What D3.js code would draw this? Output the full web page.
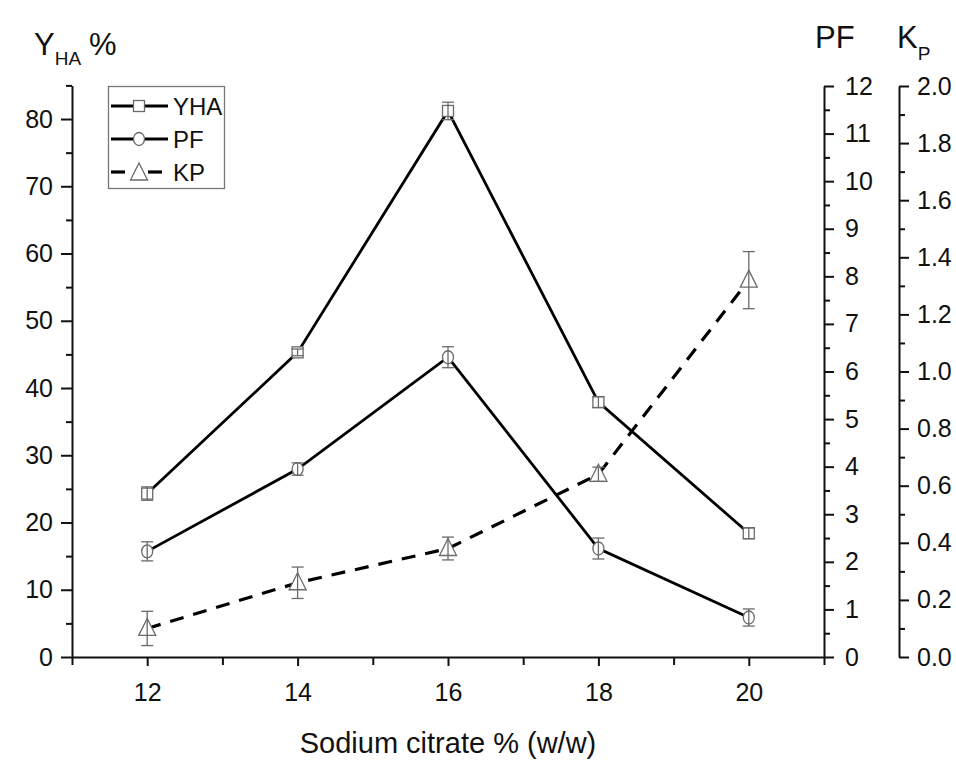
<!DOCTYPE html>
<html>
<head>
<script src="https://d3js.org/d3.v7.min.js"></script>
<style>
  html, body { margin: 0; background: #fff; }
  svg text { font-family: "Liberation Sans", Arial, sans-serif; fill: #111; }
  .axis path, .axis line { stroke: #111; stroke-width: 2px; }
</style>
</head>
<body>
<svg id="chart" width="956" height="768"></svg>
<script>
// sodium citrate % (w/w)
var citrate = [12, 14, 16, 18, 20];
// Y_HA % (left axis)
var yha    = [24.3, 45.3, 81.2, 37.9, 18.4];
var yhaErr = [1.0, 0.5, 1.3, 0.8, 0.8];
// PF (first right axis)
var pf     = [2.22, 3.95, 6.30, 2.28, 0.83];
var pfErr  = [0.20, 0.13, 0.22, 0.22, 0.18];
// K_P (second right axis)
var kp     = [0.10, 0.26, 0.38, 0.64, 1.32];
var kpErr  = [0.06, 0.055, 0.04, 0.025, 0.10];

var xTicks = [12, 14, 16, 18, 20],
    xMinor = [11, 13, 15, 17, 19, 21];

var svg = d3.select("#chart");

var x   = d3.scaleLinear().domain([11, 21]).range([72, 824]);
var yL  = d3.scaleLinear().domain([0, 85]).range([657, 85.4]);
var yPF = d3.scaleLinear().domain([0, 12]).range([657, 86]);
var yKP = d3.scaleLinear().domain([0, 2]).range([657, 86]);

function styleText(g, size) {
  g.selectAll("text").style("font-size", size + "px");
}

// bottom axis
svg.append("g").attr("class", "axis").attr("transform", "translate(0,657)")
  .call(d3.axisBottom(x).tickValues(xTicks).tickSize(9).tickSizeOuter(0).tickPadding(17).tickFormat(d3.format("d")))
  .call(styleText, 25);
svg.append("g").attr("class", "axis").attr("transform", "translate(0,657)")
  .call(d3.axisBottom(x).tickValues(xMinor).tickSize(8).tickFormat(""))
  .select(".domain").remove();

// left axis
svg.append("g").attr("class", "axis").attr("transform", "translate(72,0)")
  .call(d3.axisLeft(yL).tickValues(d3.range(0, 81, 10)).tickSize(11).tickSizeOuter(0).tickPadding(8))
  .call(styleText, 25);
svg.append("g").attr("class", "axis").attr("transform", "translate(72,0)")
  .call(d3.axisLeft(yL).tickValues(d3.range(5, 86, 10)).tickSize(6).tickFormat(""))
  .select(".domain").remove();

// PF axis
svg.append("g").attr("class", "axis").attr("transform", "translate(824,0)")
  .call(d3.axisRight(yPF).tickValues(d3.range(0, 13, 1)).tickSize(10).tickSizeOuter(0).tickPadding(11))
  .call(styleText, 25);
svg.append("g").attr("class", "axis").attr("transform", "translate(824,0)")
  .call(d3.axisRight(yPF).tickValues(d3.range(0.5, 12, 1)).tickSize(6).tickFormat(""))
  .select(".domain").remove();

// Kp axis
svg.append("g").attr("class", "axis").attr("transform", "translate(899,0)")
  .call(d3.axisRight(yKP).tickValues(d3.range(0, 10.5, 1).map(function(d) { return d / 5; }))
    .tickSize(10).tickSizeOuter(0).tickPadding(8).tickFormat(d3.format(".1f")))
  .call(styleText, 25);
svg.append("g").attr("class", "axis").attr("transform", "translate(899,0)")
  .call(d3.axisRight(yKP).tickValues(d3.range(0, 10).map(function(d) { return d / 5 + 0.1; })).tickSize(6).tickFormat(""))
  .select(".domain").remove();

// titles
var t1 = svg.append("text").attr("x", 34).attr("y", 55).style("font-size", "31px");
t1.append("tspan").text("Y");
t1.append("tspan").attr("dy", 10).style("font-size", "19px").text("HA");
t1.append("tspan").attr("dy", -10).attr("dx", 8).text("%");

svg.append("text").attr("x", 815).attr("y", 48).style("font-size", "31px").text("PF");
var t3 = svg.append("text").attr("x", 897).attr("y", 48).style("font-size", "31px");
t3.append("tspan").text("K");
t3.append("tspan").attr("dy", 12).style("font-size", "19px").text("P");

svg.append("text").attr("x", 448).attr("y", 753).attr("text-anchor", "middle")
  .style("font-size", "29px").text("Sodium citrate % (w/w)");

// series
var series = [
  { vals: yha, err: yhaErr, y: yL,  shape: "square",   dash: null },
  { vals: pf,  err: pfErr,  y: yPF, shape: "circle",   dash: null },
  { vals: kp,  err: kpErr,  y: yKP, shape: "triangle", dash: "14,10" }
];

var markColor = "#6a6a6a";

function drawMarker(g, shape, cx, cy) {
  if (shape === "square") {
    g.append("rect").attr("x", cx - 5.5).attr("y", cy - 5.5).attr("width", 11).attr("height", 11)
      .attr("fill", "#fff").attr("stroke", markColor).attr("stroke-width", 1.3);
  } else if (shape === "circle") {
    g.append("ellipse").attr("cx", cx).attr("cy", cy).attr("rx", 5.5).attr("ry", 6.5)
      .attr("fill", "#fff").attr("stroke", markColor).attr("stroke-width", 1.3);
  } else {
    g.append("path").attr("d", "M" + cx + "," + (cy - 10) + "L" + (cx + 8.5) + "," + (cy + 7) + "L" + (cx - 8.5) + "," + (cy + 7) + "Z")
      .attr("fill", "#fff").attr("stroke", markColor).attr("stroke-width", 1.3);
  }
}

series.forEach(function(s) {
  var line = d3.line().x(function(d, i) { return x(citrate[i]); }).y(function(d) { return s.y(d); });
  svg.append("path").datum(s.vals).attr("d", line).attr("fill", "none")
    .attr("stroke", "#000").attr("stroke-width", s.dash ? 3.2 : 2.8)
    .attr("stroke-dasharray", s.dash);
});

series.forEach(function(s) {
  var g = svg.append("g");
  s.vals.forEach(function(v, i) {
    var cx = x(citrate[i]);
    drawMarker(g, s.shape, cx, s.y(v));
    var top = s.y(v + s.err[i]), bot = s.y(v - s.err[i]);
    g.append("line").attr("x1", cx).attr("x2", cx).attr("y1", top).attr("y2", bot)
      .attr("stroke", markColor).attr("stroke-width", 1.3);
    [top, bot].forEach(function(yy) {
      g.append("line").attr("x1", cx - 6).attr("x2", cx + 6).attr("y1", yy).attr("y2", yy)
        .attr("stroke", markColor).attr("stroke-width", 1.3);
    });
  });
});

// legend
var leg = svg.append("g");
leg.append("rect").attr("x", 108.5).attr("y", 86.5).attr("width", 116).attr("height", 102)
  .attr("fill", "#fff").attr("stroke", "#777").attr("stroke-width", 1.3);
var legNames = ["YHA", "PF", "KP"];
legNames.forEach(function(name, i) {
  var cy = 106 + i * 33, s = series[i];
  if (s.dash) {
    leg.append("line").attr("x1", 111).attr("x2", 125).attr("y1", cy).attr("y2", cy).attr("stroke", "#000").attr("stroke-width", 3.2);
    leg.append("line").attr("x1", 148).attr("x2", 162).attr("y1", cy).attr("y2", cy).attr("stroke", "#000").attr("stroke-width", 3.2);
    drawMarker(leg, s.shape, 139, cy + 1);
  } else {
    leg.append("line").attr("x1", 111).attr("x2", 168).attr("y1", cy).attr("y2", cy).attr("stroke", "#000").attr("stroke-width", 2.8);
    drawMarker(leg, s.shape, 139, cy);
  }
  leg.append("text").attr("x", 173).attr("y", cy + 9).style("font-size", "24px").text(name);
});
</script>
</body>
</html>
